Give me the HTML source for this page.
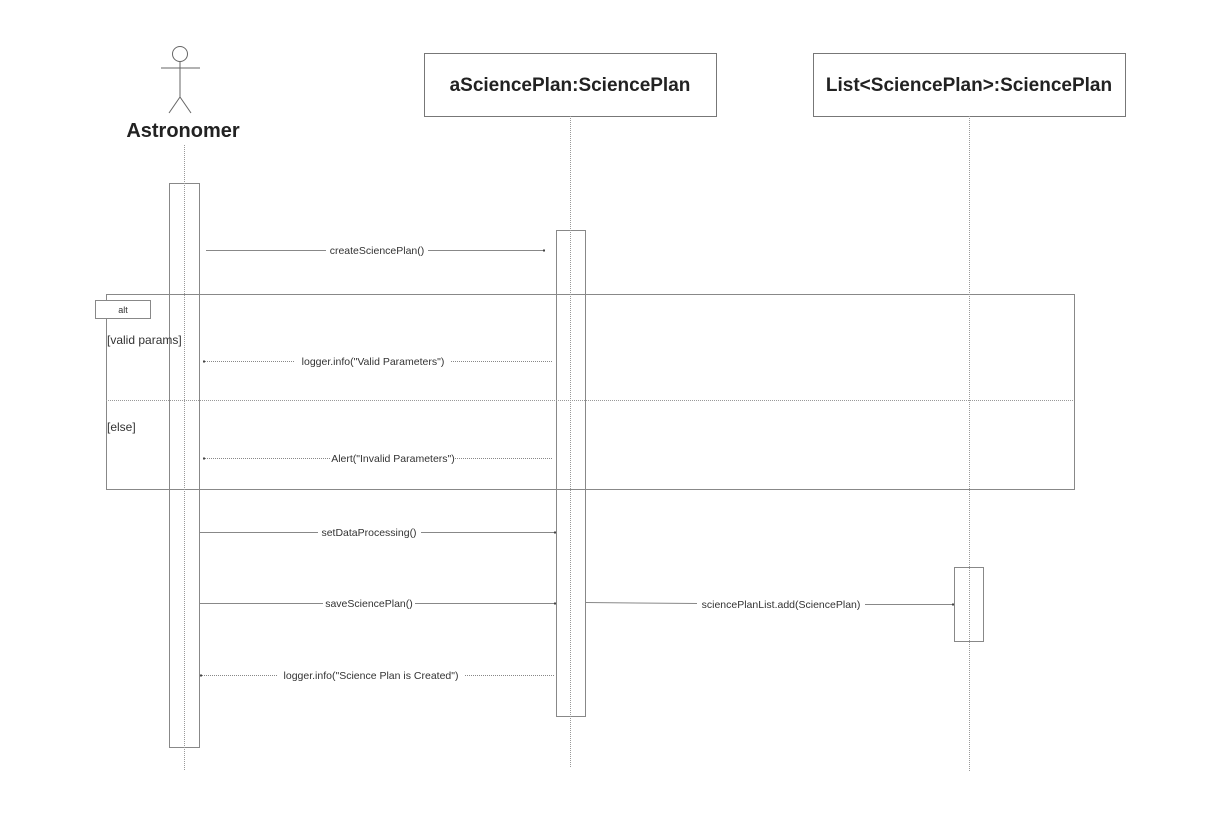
<!DOCTYPE html>
<html><head><meta charset="utf-8"><style>
html,body{margin:0;padding:0;background:#fff;}
svg{display:block;}
text{font-family:"Liberation Sans","DejaVu Sans",sans-serif;fill:#333;}
</style></head><body>
<svg width="1220" height="819" viewBox="0 0 1220 819" xmlns="http://www.w3.org/2000/svg">
<rect x="0" y="0" width="1220" height="819" fill="#fff"/>
<g stroke="#666" stroke-width="1" fill="none">
<circle cx="180" cy="54" r="7.5"/>
<line x1="180" y1="62" x2="180" y2="97"/>
<line x1="161" y1="68" x2="200" y2="68"/>
<line x1="180" y1="97" x2="169" y2="113"/>
<line x1="180" y1="97" x2="191" y2="113"/>
</g>
<text x="183" y="137" font-size="20" font-weight="bold" text-anchor="middle" style="fill:#222">Astronomer</text>
<rect x="424.5" y="53.5" width="292" height="63" fill="#fff" stroke="#777"/>
<text x="570" y="91" font-size="19" font-weight="bold" text-anchor="middle" style="fill:#222">aSciencePlan:SciencePlan</text>
<rect x="813.5" y="53.5" width="312" height="63" fill="#fff" stroke="#777"/>
<text x="969" y="91" font-size="19" font-weight="bold" text-anchor="middle" style="fill:#222">List&lt;SciencePlan&gt;:SciencePlan</text>
<rect x="169.5" y="183.5" width="30" height="564" fill="none" stroke="#888"/>
<rect x="556.5" y="230.5" width="29" height="486" fill="none" stroke="#888"/>
<rect x="954.5" y="567.5" width="29" height="74" fill="none" stroke="#888"/>
<rect x="106.5" y="294.5" width="968" height="195" fill="none" stroke="#888"/>
<line x1="106" y1="400.5" x2="1074" y2="400.5" stroke="#999" stroke-dasharray="1,1"/>
<rect x="95.5" y="300.5" width="55" height="18" fill="#fff" stroke="#888"/>
<text x="123" y="313" font-size="9" text-anchor="middle">alt</text>
<text x="107" y="344" font-size="12">[valid params]</text>
<text x="107" y="431" font-size="12">[else]</text>
<g stroke="#999" stroke-dasharray="1,1">
<line x1="184.5" y1="145" x2="184.5" y2="770"/>
<line x1="570.5" y1="116" x2="570.5" y2="767"/>
<line x1="969.5" y1="116" x2="969.5" y2="772"/>
</g>
<g stroke="#888" fill="none">
<line x1="206" y1="250.5" x2="326" y2="250.5"/><line x1="428" y1="250.5" x2="545" y2="250.5"/>
<line x1="203" y1="361.5" x2="295" y2="361.5" stroke-dasharray="1,1"/><line x1="451" y1="361.5" x2="552" y2="361.5" stroke-dasharray="1,1"/>
<line x1="203" y1="458.5" x2="331" y2="458.5" stroke-dasharray="1,1"/><line x1="455" y1="458.5" x2="552" y2="458.5" stroke-dasharray="1,1"/>
<line x1="200" y1="532.5" x2="318" y2="532.5"/><line x1="421" y1="532.5" x2="556" y2="532.5"/>
<line x1="200" y1="603.5" x2="323" y2="603.5"/><line x1="415" y1="603.5" x2="556" y2="603.5"/>
<line x1="586" y1="602.5" x2="697" y2="603.5"/><line x1="865" y1="604.5" x2="954" y2="604.5"/>
<line x1="200" y1="675.5" x2="278" y2="675.5" stroke-dasharray="1,1"/><line x1="465" y1="675.5" x2="555" y2="675.5" stroke-dasharray="1,1"/>
</g>
<g fill="#444">
<rect x="543" y="249.5" width="2" height="2"/><rect x="203" y="360.5" width="2" height="2"/>
<rect x="203" y="457.5" width="2" height="2"/><rect x="554" y="531.5" width="2" height="2"/>
<rect x="554" y="602.5" width="2" height="2"/><rect x="952" y="603.5" width="2" height="2"/>
<rect x="200" y="674.5" width="2" height="2"/>
</g>
<g font-size="10.5" text-anchor="middle">
<text x="377" y="254">createSciencePlan()</text>
<text x="373" y="365">logger.info("Valid Parameters")</text>
<text x="393" y="462">Alert("Invalid Parameters")</text>
<text x="369" y="536">setDataProcessing()</text>
<text x="369" y="607">saveSciencePlan()</text>
<text x="781" y="608">sciencePlanList.add(SciencePlan)</text>
<text x="371" y="679">logger.info("Science Plan is Created")</text>
</g>
</svg>
</body></html>
